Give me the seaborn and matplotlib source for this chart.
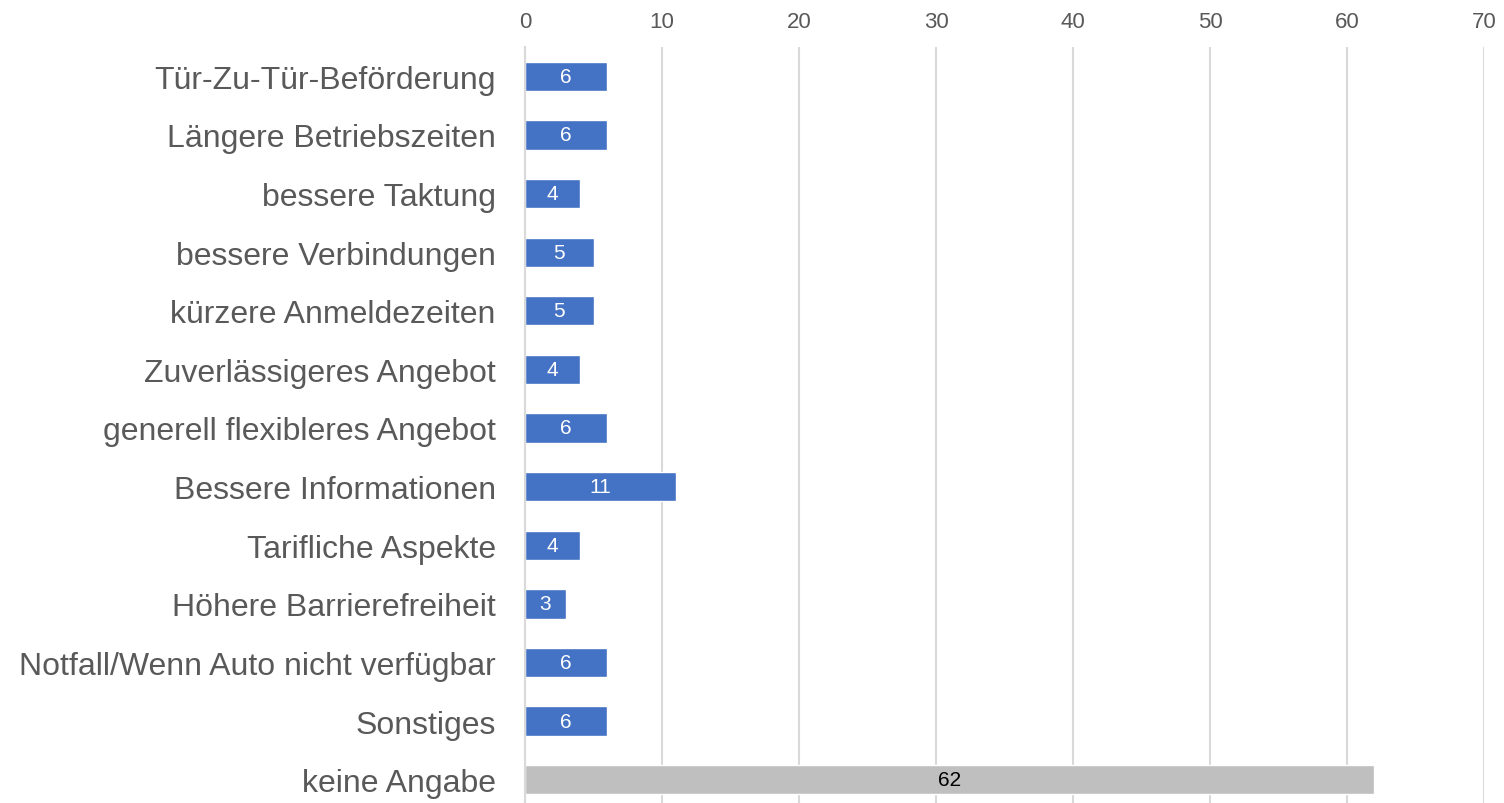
import matplotlib
matplotlib.use("Agg")
import matplotlib.pyplot as plt
import seaborn as sns
import pandas as pd

categories = [
    "Tür-Zu-Tür-Beförderung",
    "Längere Betriebszeiten",
    "bessere Taktung",
    "bessere Verbindungen",
    "kürzere Anmeldezeiten",
    "Zuverlässigeres Angebot",
    "generell flexibleres Angebot",
    "Bessere Informationen",
    "Tarifliche Aspekte",
    "Höhere Barrierefreiheit",
    "Notfall/Wenn Auto nicht verfügbar",
    "Sonstiges",
    "keine Angabe",
]
values = [6, 6, 4, 5, 5, 4, 6, 11, 4, 3, 6, 6, 62]
x_ticks = [0, 10, 20, 30, 40, 50, 60, 70]

blue = "#4472C4"
grey = "#BFBFBF"
bar_colors = [grey if c == "keine Angabe" else blue for c in categories]

df = pd.DataFrame({"Kategorie": categories, "Anzahl": values})

sns.set_theme(style="white")
plt.rcParams["font.family"] = ["Liberation Sans", "DejaVu Sans"]

fig = plt.figure(figsize=(15.04, 8.04), dpi=100)
ax = fig.add_axes([525 / 1504, -6 / 804, 959 / 1504, 762 / 804])

sns.barplot(data=df, x="Anzahl", y="Kategorie", hue="Kategorie",
            palette=bar_colors, legend=False, width=0.5, saturation=1,
            orient="h", ax=ax)

ax.set_xlim(0, 70)
ax.set_xticks(x_ticks)
ax.xaxis.tick_top()
ax.tick_params(axis="x", length=0, pad=11, labelsize=16, labelcolor="#595959")
ax.tick_params(axis="y", length=0, pad=21, labelsize=23, labelcolor="#595959")
ax.set_xlabel("")
ax.set_ylabel("")
ax.grid(axis="x", color="#D9D9D9", linewidth=1.5)
ax.set_axisbelow(True)
for side in ["top", "right", "bottom"]:
    ax.spines[side].set_visible(False)
ax.spines["left"].set_color("#D9D9D9")
ax.spines["left"].set_linewidth(1.5)

# value labels centred in the bars
for container, cat in zip(ax.containers, categories):
    col = "black" if cat == "keine Angabe" else "white"
    ax.bar_label(container, label_type="center", color=col, fontsize=15)

fig.savefig("out.png", dpi=100)
